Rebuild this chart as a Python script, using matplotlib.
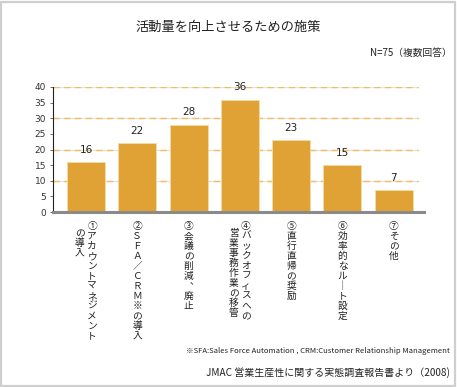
import matplotlib

matplotlib.use("Agg")
import matplotlib.pyplot as plt
import matplotlib.transforms as mtransforms
from matplotlib.patches import Rectangle

plt.rcParams["font.family"] = ["Noto Sans CJK JP", "DejaVu Sans"]

title = "活動量を向上させるための施策"
note_n = "N=75（複数回答）"
footnote = "※SFA:Sales Force Automation , CRM:Customer Relationship Management"
source = "JMAC 営業生産性に関する実態調査報告書より（2008)"

# each label is a list of vertical columns, right column first
labels = [
    ["①アカウントマネジメント", "の導入"],
    ["②ＳＦＡ／ＣＲＭ※の導入"],
    ["③会議の削減、廃止"],
    ["④バックオフィスへの", "営業事務作業の移管"],
    ["⑤直行直帰の奨励"],
    ["⑥効率的なルート設定"],
    ["⑦その他"],
]
values = [16, 22, 28, 36, 23, 15, 7]
yticks = [0, 5, 10, 15, 20, 25, 30, 35, 40]
grid_levels = [10, 20, 30, 40]

W, H = 457, 387
BAR = "#e0a235"

# vertical writing forms
VERT = {"ー": "｜", "、": "︑"}


def stack(s):
    return "\n".join(VERT.get(c, c) for c in s)


fig = plt.figure(figsize=(W / 100, H / 100), dpi=100, facecolor="white")
ax = fig.add_axes([53 / W, 1 - 212 / H, (424 - 53) / W, 125 / H])

x = list(range(len(values)))
for lv in grid_levels:
    ax.axhline(lv, xmax=0.985, color="#e2e2e2", lw=0.9, zorder=0)
    ax.axhline(lv, xmax=0.985, color="#f4bc5c", lw=1.0, ls=(0, (4.5, 3.2)), zorder=1)

bars = ax.bar(x, values, width=0.74, color=BAR, edgecolor="#f4dca8", lw=0.6, zorder=2)
for b, v in zip(bars, values):
    ax.text(b.get_x() + b.get_width() / 2, v + 2.3, str(v), ha="center", va="bottom",
            fontsize=7.5, color="#222222", family=["DejaVu Sans"])

ax.set_xlim(-0.643, 6.59)
ax.set_ylim(0, 40)
ax.set_yticks(yticks)
ax.set_yticklabels([str(t) for t in yticks], fontsize=6.5, color="#333333", family=["DejaVu Sans"])
ax.set_xticks([])
ax.tick_params(axis="y", length=2, width=0.6, color="#555555", pad=3)
for s in ["top", "right"]:
    ax.spines[s].set_visible(False)
ax.spines["left"].set_color("#222222")
ax.spines["left"].set_linewidth(0.8)
ax.spines["bottom"].set_color("#8a8a8a")
ax.spines["bottom"].set_linewidth(2.2)

# vertical category labels
trans = mtransforms.blended_transform_factory(ax.transData, fig.transFigure)
col_off = 0.12
for i, cols in enumerate(labels):
    if len(cols) == 1:
        xs = [i]
        ys = [1 - 221 / H]
    else:
        xs = [i + col_off, i - col_off]
        ys = [1 - 221 / H, 1 - 228 / H]
    for cx, cy, c in zip(xs, ys, cols):
        fig.text(cx, cy, stack(c), transform=trans, ha="center", va="top",
                 fontsize=7, linespacing=1.0, color="#222222", multialignment="center")

fig.text(228 / W, 1 - 27 / H, title, ha="center", va="center", fontsize=9.5, color="#222222")
fig.text(452 / W, 1 - 53 / H, note_n, ha="right", va="center", fontsize=7, color="#222222")
fig.text(450 / W, 1 - 351 / H, footnote, ha="right", va="center", fontsize=5.5, color="#222222")
fig.text(450 / W, 1 - 373 / H, source, ha="right", va="center", fontsize=7.2, color="#222222")

fig.patches.append(Rectangle((1 / W, 1 / H), (W - 3) / W, (H - 3) / H, transform=fig.transFigure,
                             fill=False, edgecolor="#cfcfcf", lw=1.6))

fig.savefig("out.png", dpi=100)
